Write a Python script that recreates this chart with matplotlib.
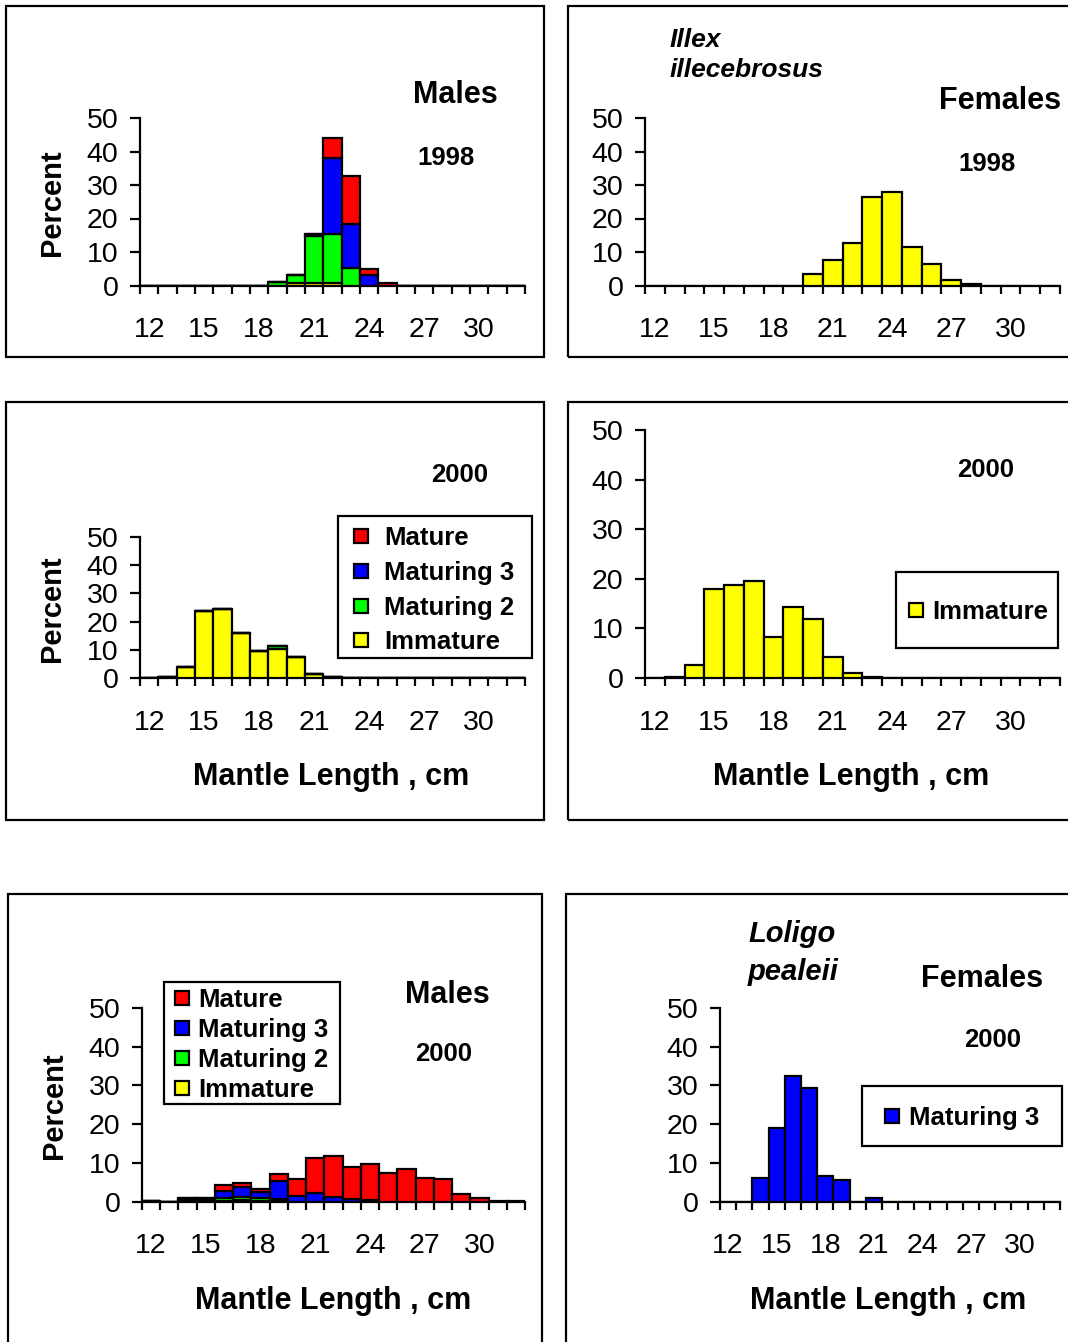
import numpy as np
import matplotlib
matplotlib.use("Agg")
import matplotlib.pyplot as plt
from matplotlib.patches import Rectangle
from matplotlib.lines import Line2D

W, H = 1068, 1342
plt.rcParams['font.family'] = ['Liberation Sans', 'DejaVu Sans']

# ---------------- data ----------------
lengths = list(range(12, 33))            # mantle length classes, cm
tick_labels = ["12", "15", "18", "21", "24", "27", "30"]
stages = ["Mature", "Maturing 3", "Maturing 2", "Immature"]
stage_colors = {"Immature": "#FFFF00", "Maturing 2": "#00FF00",
                "Maturing 3": "#0000FF", "Mature": "#FF0000"}

# Illex illecebrosus, males 1998
illex_m98_imm  = [0, 0, 0, 0, 0, 0, 0, 0, 0.8, 0.8, 0.8, 0, 0, 0, 0, 0, 0, 0, 0, 0, 0]
illex_m98_mat2 = [0, 0, 0, 0, 0, 0, 0, 1.0, 2.2, 13.9, 14.5, 5.1, 0, 0, 0, 0, 0, 0, 0, 0, 0]
illex_m98_mat3 = [0, 0, 0, 0, 0, 0, 0, 0, 0, 0.6, 22.7, 13.3, 3.0, 0, 0, 0, 0, 0, 0, 0, 0]
illex_m98_mat  = [0, 0, 0, 0, 0, 0, 0, 0, 0, 0, 6.0, 14.2, 1.8, 0.8, 0, 0, 0, 0, 0, 0, 0]

# Illex illecebrosus, females 1998 (immature)
illex_f98_imm = [0, 0, 0, 0, 0, 0, 0, 0, 3.3, 7.5, 12.8, 26.3, 28.0, 11.6, 6.3, 1.6, 0.4, 0, 0, 0, 0]

# Illex illecebrosus, males 2000
illex_m00_imm  = [0, 0.4, 3.9, 23.9, 24.6, 16.1, 9.6, 10.4, 7.5, 1.3, 0.3, 0, 0, 0, 0, 0, 0, 0, 0, 0, 0]
illex_m00_mat2 = [0, 0, 0, 0, 0, 0, 0, 0.8, 0, 0, 0, 0, 0, 0, 0, 0, 0, 0, 0, 0, 0]
illex_m00_mat3 = [0] * 21
illex_m00_mat  = [0] * 21

# Illex illecebrosus, females 2000 (immature)
illex_f00_imm = [0, 0.2, 2.6, 17.9, 18.7, 19.5, 8.3, 14.3, 11.9, 4.2, 1.0, 0.2, 0, 0, 0, 0, 0, 0, 0, 0, 0]

# Loligo pealeii, males 2000
loligo_m00_imm  = [0.2, 0, 0.5, 0.5, 0.2, 0.5, 0.2, 0.2, 0, 0, 0, 0, 0, 0, 0, 0, 0, 0, 0, 0, 0]
loligo_m00_mat2 = [0, 0, 0, 0, 0.6, 0.6, 0.6, 0.4, 0, 0, 0, 0, 0, 0, 0, 0, 0, 0, 0, 0, 0]
loligo_m00_mat3 = [0, 0, 0.5, 0.5, 1.8, 2.6, 1.7, 4.6, 1.5, 2.2, 1.15, 0.6, 0.5, 0, 0, 0, 0, 0, 0, 0, 0]
loligo_m00_mat  = [0, 0, 0, 0, 1.7, 1.2, 0.8, 1.8, 4.3, 9.0, 10.6, 8.3, 9.1, 7.3, 8.4, 6.2, 5.7, 1.9, 0.9, 0.2, 0.1]

# Loligo pealeii, females 2000 (maturing 3)
loligo_f00_mat3 = [0, 0, 6.0, 19.0, 32.4, 29.3, 6.6, 5.5, 0, 0.9, 0, 0, 0, 0, 0, 0, 0, 0, 0, 0, 0]

# ---------------- helpers ----------------
fig = plt.figure(figsize=(W / 100, H / 100), dpi=100)
LEG_FS = 18.5


def px_axes(x0, y0, x1, y1):
    return fig.add_axes([x0 / W, 1 - y1 / H, (x1 - x0) / W, (y1 - y0) / H])


def fxy(x, y):
    return (x / W, 1 - y / H)


def frame(x0, y0, x1, y1, z=0):
    fig.patches.append(Rectangle(fxy(x0, y1), (x1 - x0) / W, (y1 - y0) / H,
                                 transform=fig.transFigure, fill=False,
                                 edgecolor="black", linewidth=1.6, zorder=z))


def setup(ax):
    n = len(lengths)
    ax.set_xlim(-0.5, n - 0.5)
    ax.set_ylim(0, 50)
    for s in ("top", "right"):
        ax.spines[s].set_visible(False)
    for s in ("left", "bottom"):
        ax.spines[s].set_linewidth(1.6)
    ax.set_xticks(np.arange(-0.5, n, 1.0), minor=True)
    ax.set_xticks([lengths.index(int(t)) for t in tick_labels])
    ax.set_xticklabels(tick_labels)
    ax.tick_params(axis="x", which="major", length=0, pad=23, labelsize=20.5)
    ax.tick_params(axis="x", which="minor", length=6, width=1.6, direction="out")
    ax.set_yticks([0, 10, 20, 30, 40, 50])
    ax.tick_params(axis="y", length=7.5, width=1.6, direction="out", pad=8, labelsize=20.5)
    ax.patch.set_alpha(0)


def stack(ax, series):
    x = np.arange(len(lengths))
    bottom = np.zeros(len(lengths))
    for name, vals in series:
        vals = np.asarray(vals, dtype=float)
        ax.bar(x, vals, width=1.0, bottom=bottom, color=stage_colors[name],
               edgecolor="black", linewidth=1.6, zorder=3)
        bottom += vals


def legend(ax, names, box, mx, my, spacing, pad):
    """box: (x0, y0, x1, y1) px of legend frame; (mx, my) px centre of first marker."""
    frame(*box, z=5)
    fs_px = LEG_FS * 100 / 72
    hl = 0.8
    ax_x = mx - hl * fs_px / 2
    ax_y = my - 11
    handles = [Line2D([], [], marker="s", linestyle="none", markersize=9.5,
                      markerfacecolor=stage_colors[nm], markeredgecolor="black",
                      markeredgewidth=1.6) for nm in names]
    lg = ax.legend(handles, names, loc="upper left", bbox_to_anchor=fxy(ax_x, ax_y),
                   bbox_transform=fig.transFigure, frameon=False,
                   borderaxespad=0, handlelength=hl, borderpad=0,
                   handletextpad=pad, labelspacing=spacing,
                   prop={"weight": "bold", "size": LEG_FS})
    return lg


def label(x, y, s, size, weight="bold", style="normal", ha="center", rot=0):
    fig.text(*fxy(x, y), s, fontsize=size, fontweight=weight, fontstyle=style,
             ha=ha, va="center", rotation=rot)


# ---------------- frames ----------------
frame(6, 6, 544, 357)
frame(568, 6, 1075, 357)
frame(6, 402, 544, 820)
frame(568, 402, 1075, 820)
frame(8, 894, 542, 1350)
frame(566, 894, 1075, 1350)

# ---------------- panel 1: Illex males 1998 ----------------
ax1 = px_axes(140, 118, 525, 285.5)
setup(ax1)
stack(ax1, [("Immature", illex_m98_imm), ("Maturing 2", illex_m98_mat2),
            ("Maturing 3", illex_m98_mat3), ("Mature", illex_m98_mat)])
label(455, 95, "Males", 22)
label(446, 158, "1998", 18.5)
label(52, 203, "Percent", 21, rot=90)

# ---------------- panel 2: Illex females 1998 ----------------
ax2 = px_axes(645, 118, 1060, 285.5)
setup(ax2)
stack(ax2, [("Immature", illex_f98_imm)])
label(670, 40, "Illex", 19, style="italic", ha="left")
label(670, 70, "illecebrosus", 19, style="italic", ha="left")
label(1000, 101, "Females", 22)
label(987, 164, "1998", 18.5)

# ---------------- panel 3: Illex males 2000 ----------------
ax3 = px_axes(140, 537, 525, 678)
setup(ax3)
stack(ax3, [("Immature", illex_m00_imm), ("Maturing 2", illex_m00_mat2),
            ("Maturing 3", illex_m00_mat3), ("Mature", illex_m00_mat)])
label(460, 475, "2000", 18.5)
label(52, 609, "Percent", 21, rot=90)
label(331, 777, "Mantle Length , cm", 22)
legend(ax3, stages, (338, 516, 532, 658), 361, 537, 0.42, 0.5)

# ---------------- panel 4: Illex females 2000 ----------------
ax4 = px_axes(645, 430, 1060, 678)
setup(ax4)
stack(ax4, [("Immature", illex_f00_imm)])
label(986, 470, "2000", 18.5)
label(851, 777, "Mantle Length , cm", 22)
legend(ax4, ["Immature"], (896, 572, 1058, 648), 916, 611, 0.3, 0.25)

# ---------------- panel 5: Loligo males 2000 ----------------
ax5 = px_axes(142, 1008, 525, 1201.5)
setup(ax5)
stack(ax5, [("Immature", loligo_m00_imm), ("Maturing 2", loligo_m00_mat2),
            ("Maturing 3", loligo_m00_mat3), ("Mature", loligo_m00_mat)])
label(447, 995, "Males", 22)
label(444, 1054, "2000", 18.5)
label(54, 1106, "Percent", 21, rot=90)
label(333, 1301, "Mantle Length , cm", 22)
legend(ax5, stages, (164, 982, 340, 1104), 182, 999, 0.23, 0.22)

# ---------------- panel 6: Loligo females 2000 ----------------
ax6 = px_axes(720, 1008, 1060, 1201.5)
setup(ax6)
stack(ax6, [("Maturing 3", loligo_f00_mat3)])
label(748, 934, "Loligo", 21, style="italic", ha="left")
label(748, 972, "pealeii", 21, style="italic", ha="left")
label(982, 979, "Females", 22)
label(993, 1040, "2000", 18.5)
label(888, 1301, "Mantle Length , cm", 22)
legend(ax6, ["Maturing 3"], (862, 1086, 1062, 1146), 892, 1117, 0.3, 0.25)

fig.savefig("out.png", dpi=100)
